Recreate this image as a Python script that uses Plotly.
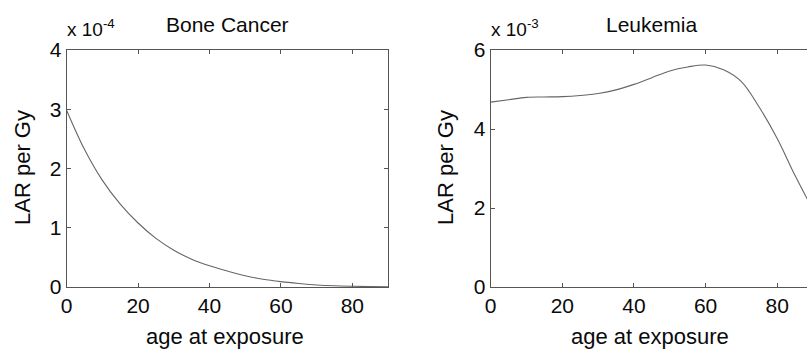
import plotly.graph_objects as go

# ---- data ----
ages = [0, 5, 10, 15, 20, 25, 30, 35, 40, 45, 50, 55, 60, 65, 70, 75, 80, 85, 90]
# Bone cancer LAR per Gy, in units of 1e-4
bone_lar_e4 = [2.98, 2.32, 1.80, 1.40, 1.08, 0.82, 0.62, 0.47, 0.36, 0.27,
               0.19, 0.13, 0.09, 0.06, 0.035, 0.02, 0.012, 0.007, 0.005]
# Leukemia LAR per Gy, in units of 1e-3
leuk_lar_e3 = [4.68, 4.74, 4.80, 4.81, 4.82, 4.85, 4.90, 4.99, 5.13, 5.30,
               5.47, 5.57, 5.62, 5.50, 5.20, 4.55, 3.76, 2.82, 1.95]
x_ticks = [0, 20, 40, 60, 80]
bone_yticks = [0, 1, 2, 3, 4]
leuk_yticks = [0, 2, 4, 6]
titles = ["Bone Cancer", "Leukemia"]
exponents = ["x 10<sup>-4</sup>", "x 10<sup>-3</sup>"]
x_label = "age at exposure"
y_label = "LAR per Gy"

W, H = 807, 350
FONT = "Liberation Sans, Arial, sans-serif"
TXT = "#0a0a0a"
LINE = "#555555"
CURVE = "#666666"

# pixel geometry
L1, R1 = 66.7, 388.0
L2, R2full = 490.7, 813.0
TOP, BOT = 50.0, 287.0
x2_max = 90 * (W - L2) / (R2full - L2)

def px(x):
    return x / W

def py(y):
    return 1 - y / H

fig = go.Figure()
fig.add_trace(go.Scatter(x=ages, y=bone_lar_e4, mode="lines",
                         line=dict(color=CURVE, width=1.1, shape="spline"),
                         xaxis="x", yaxis="y", showlegend=False))
fig.add_trace(go.Scatter(x=ages, y=leuk_lar_e3, mode="lines",
                         line=dict(color=CURVE, width=1.1, shape="spline"),
                         xaxis="x2", yaxis="y2", showlegend=False))

axis_common = dict(showline=True, linecolor=LINE, linewidth=1.2,
                   ticks="inside", ticklen=4, tickcolor=LINE, tickwidth=1,
                   showgrid=False, zeroline=False, automargin=False,
                   tickfont=dict(family=FONT, size=21, color=TXT))

fig.update_layout(
    template="none",
    width=W, height=H,
    margin=dict(l=0, r=0, t=0, b=0, pad=0, autoexpand=False),
    paper_bgcolor="white", plot_bgcolor="white",
    xaxis=dict(domain=[px(L1), px(R1)], range=[0, 90], tickvals=x_ticks,
               mirror="allticks", anchor="y", **axis_common),
    yaxis=dict(domain=[py(BOT), py(TOP)], range=[0, 4], tickvals=bone_yticks,
               mirror="allticks", anchor="x", **axis_common),
    xaxis2=dict(domain=[px(L2), 1.0], range=[0, x2_max], tickvals=x_ticks,
                mirror="allticks", anchor="y2", **axis_common),
    yaxis2=dict(domain=[py(BOT), py(TOP)], range=[0, 6], tickvals=leuk_yticks,
                mirror=False, anchor="x2", **axis_common),
)

ann = []
centers = [(L1 + R1) / 2, (L2 + R2full) / 2]
lefts = [L1, L2]
ylab_x = [22, 445]
for i in range(2):
    ann.append(dict(x=px(centers[i]), y=py(25), xref="paper", yref="paper",
                    text=titles[i], showarrow=False, xanchor="center", yanchor="middle",
                    font=dict(family=FONT, size=21, color=TXT)))
    ann.append(dict(x=px(lefts[i] - 2), y=py(28), xref="paper", yref="paper",
                    text=exponents[i], showarrow=False, xanchor="left", yanchor="middle",
                    font=dict(family=FONT, size=19, color=TXT)))
    ann.append(dict(x=px(centers[i] - 2), y=py(336), xref="paper", yref="paper",
                    text=x_label, showarrow=False, xanchor="center", yanchor="middle",
                    font=dict(family=FONT, size=22, color=TXT)))
    ann.append(dict(x=px(ylab_x[i]), y=py(168), xref="paper", yref="paper",
                    text=y_label, showarrow=False, textangle=-90,
                    xanchor="center", yanchor="middle",
                    font=dict(family=FONT, size=22, color=TXT)))
fig.update_layout(annotations=ann)

fig.write_html("out.html", config={"displayModeBar": False},
               post_script="document.body.style.margin='0px';")
